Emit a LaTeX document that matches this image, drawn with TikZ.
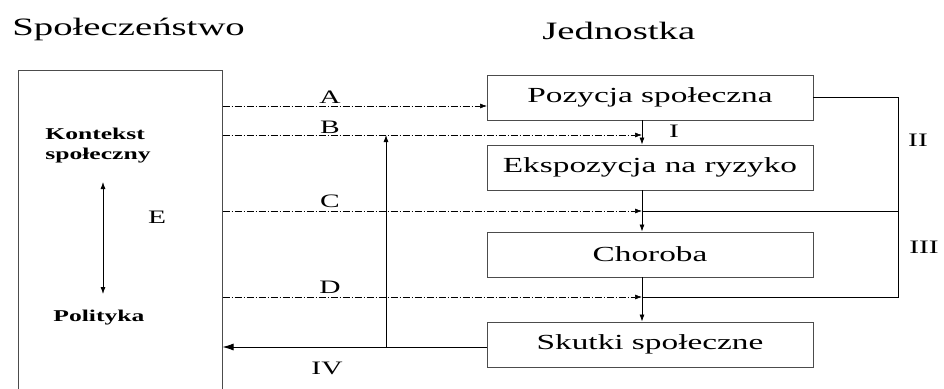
\documentclass[tikz,border=0pt]{standalone}
\usepackage{fontspec}
\setmainfont{Liberation Serif}[FakeStretch=1.55]
\usetikzlibrary{arrows.meta}
\tikzset{
  box/.style={draw=black!70, line width=0.9pt, minimum width=326pt, minimum height=45pt, inner sep=0pt, font=\fontsize{21.5}{24}\selectfont},
  dd/.style={line width=0.6pt, dash pattern=on 7pt off 2pt on 1pt off 2pt},
  arr/.style={-{Latex[length=7pt,width=5pt]}},
  lbl/.style={font=\fontsize{19}{22}\selectfont, anchor=base, inner sep=0pt},
  ttl/.style={font=\fontsize{25}{28}\selectfont, anchor=base west, inner sep=0pt},
  bld/.style={font=\bfseries\fontsize{16.5}{20}\selectfont, inner sep=0pt},
}

\begin{document}
\begin{tikzpicture}[x=1pt,y=-1pt,line width=0.8pt]
  \path[use as bounding box,clip] (0,0) rectangle (944,388);
  \fill[white] (0,0) rectangle (944,388); % background
  % society side
  \node[ttl] (tsoc) at (12,35) {Społeczeństwo};
  \node[draw=black!70,line width=1pt,minimum width=204pt,minimum height=360pt,anchor=north,inner sep=0pt] (soc) at (120,70) {};
  \node[bld,anchor=north west,align=left] (kon) at (45,128) {Kontekst\\społeczny};
  \node[bld,anchor=base west] (pol) at (53,321) {Polityka};
  \coordinate (e1) at (103,182);
  \coordinate (e2) at (103,294);
  \draw[{Latex[length=7pt,width=5pt]}-{Latex[length=7pt,width=5pt]}] (e1) -- (e2); % E
  % individual side
  \node[ttl] (tjed) at (542,39) {Jednostka};
  \node[box] (pos) at (650,97.5) {Pozycja społeczna};
  \node[box] (eks) at (650,167.5) {Ekspozycja na ryzyko};
  \node[box] (cho) at (650,254.5) {Choroba};
  \node[box] (sku) at (650,344.5) {Skutki społeczne};
  \coordinate (jA) at (487,106);
  \coordinate (jB) at (642,135);
  \coordinate (jC) at (642,211);
  \coordinate (jD) at (642,297);
  \coordinate (br) at (898,297);
  \coordinate (ret) at (386,347);
  % dash-dot links A--D
  \draw[dd,arr] (soc.east |- jA) -- (jA);
  \draw[dd,arr] (soc.east |- jB) -- (jB);
  \draw[dd,arr] (soc.east |- jC) -- (jC);
  \draw[dd,arr] (soc.east |- jD) -- (jD);
  % chain I
  \draw[arr] (pos.south -| jB) -- (eks.north -| jB);
  \draw[arr] (eks.south -| jC) -- (cho.north -| jC);
  \draw[arr] (cho.south -| jD) -- (sku.north -| jD);
  % bracket II, III
  \draw (pos.east) -| (br) -- (jD);
  \draw (br |- jC) -- (jC);
  % feedback IV
  \draw[-{Latex[length=11pt,width=7pt]}] (sku.west |- ret) -- (soc.east |- ret);
  \draw[arr] (ret) -- (ret |- jB);
  % labels
  \node[lbl] (la) at (330,103) {A};
  \node[lbl] (lb) at (330,133) {B};
  \node[lbl] (lc) at (330,207) {C};
  \node[lbl] (ld) at (330,293) {D};
  \node[lbl] (le) at (157,223) {E};
  \node[lbl] (l1) at (674,137) {I};
  \node[lbl] (l2) at (918,146) {II};
  \node[lbl] (l3) at (924,253) {III};
  \node[lbl] (l4) at (327,374) {IV};
\end{tikzpicture}
\end{document}
